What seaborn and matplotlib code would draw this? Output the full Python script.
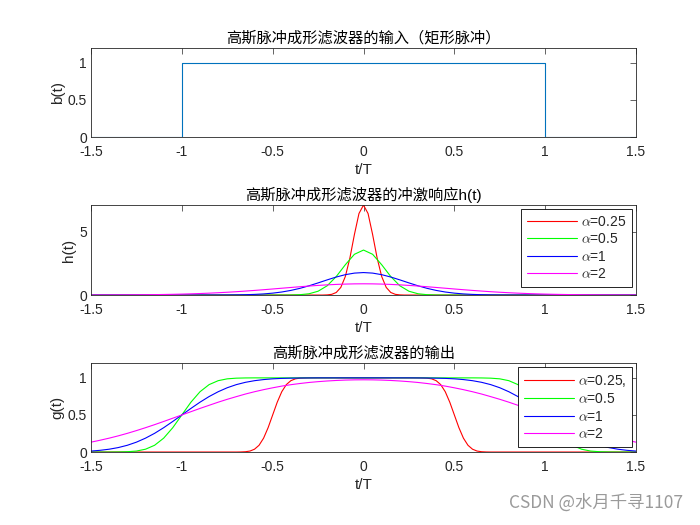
import matplotlib
matplotlib.use("Agg")
import matplotlib.pyplot as plt
import seaborn as sns
import numpy as np

# 输入矩形脉冲
t_b = [-1.5, -1.0, -1.0, 1.0, 1.0, 1.5]
b_t = [0, 0, 1, 1, 0, 0]

# 公共时间轴 (步长 0.05)
t = np.round(np.arange(-1.5, 1.5001, 0.05), 3)

# 冲激响应 h(t)
t_h025 = np.concatenate(([-1.5], np.round(np.arange(-0.25, 0.2501, 0.025), 3), [1.5]))
h_025 = [0, 0, 0.00, 0.013, 0.056, 0.203, 0.601, 1.462, 2.916, 4.776, 6.424,
         7.090,
         6.424, 4.776, 2.916, 1.462, 0.601, 0.203, 0.056, 0.013, 0.00, 0, 0]
h_05 = ([0] * 21 + [0.001, 0.006, 0.028, 0.101, 0.301, 0.731, 1.458, 2.390, 3.212]
        + [3.545]
        + [3.212, 2.390, 1.458, 0.731, 0.301, 0.101, 0.028, 0.006, 0.001] + [0] * 21)
h_1 = ([0] * 13 + [0.001, 0.003, 0.007, 0.014, 0.027, 0.051, 0.089, 0.150, 0.240,
                   0.365, 0.528, 0.729, 0.957, 1.195, 1.420, 1.606, 1.729]
       + [1.772]
       + [1.729, 1.606, 1.420, 1.195, 0.957, 0.729, 0.528, 0.365, 0.240, 0.150,
          0.089, 0.051, 0.027, 0.014, 0.007, 0.003, 0.001] + [0] * 13)
h_2 = ([0.003, 0.005, 0.007, 0.010, 0.014, 0.019, 0.025, 0.034, 0.045, 0.058,
        0.075, 0.096, 0.120, 0.149, 0.183, 0.221, 0.264, 0.313, 0.365, 0.420,
        0.478, 0.538, 0.597, 0.655, 0.710, 0.760, 0.803, 0.838, 0.864, 0.881]
       + [0.886]
       + [0.881, 0.864, 0.838, 0.803, 0.760, 0.710, 0.655, 0.597, 0.538, 0.478,
          0.420, 0.365, 0.313, 0.264, 0.221, 0.183, 0.149, 0.120, 0.096, 0.075,
          0.058, 0.045, 0.034, 0.025, 0.019, 0.014, 0.010, 0.007, 0.005, 0.003])

# 输出 g(t)
t_g025 = np.concatenate(([-1.5], np.round(np.arange(-0.7, -0.2999, 0.025), 3),
                         np.round(np.arange(0.3, 0.7001, 0.025), 3), [1.5]))
g_025 = ([0]
         + [0.000, 0.001, 0.004, 0.013, 0.038, 0.091, 0.187, 0.329, 0.500, 0.671,
            0.813, 0.909, 0.962, 0.987, 0.996, 0.999, 1.000]
         + [1.000, 0.999, 0.996, 0.987, 0.962, 0.909, 0.813, 0.671, 0.500, 0.329,
            0.187, 0.091, 0.038, 0.013, 0.004, 0.001, 0.000]
         + [0])
g_05 = ([0, 0, 0, 0.001, 0.004, 0.013, 0.038, 0.091, 0.187, 0.328, 0.500, 0.672,
         0.813, 0.909, 0.962, 0.987, 0.996, 0.999] + [1.0] * 12
        + [1.0]
        + [1.0] * 12 + [0.999, 0.996, 0.987, 0.962, 0.909, 0.813, 0.672, 0.500,
                        0.328, 0.187, 0.091, 0.038, 0.013, 0.004, 0.001, 0, 0, 0])
g_1 = ([0.013, 0.023, 0.038, 0.060, 0.091, 0.133, 0.187, 0.252, 0.328, 0.412,
        0.500, 0.588, 0.672, 0.748, 0.813, 0.867, 0.909, 0.940, 0.962, 0.977,
        0.987, 0.993, 0.996, 0.998, 0.999] + [1.0] * 5
       + [1.0]
       + [1.0] * 5 + [0.999, 0.998, 0.996, 0.993, 0.987, 0.977, 0.962, 0.940,
                      0.909, 0.867, 0.813, 0.748, 0.672, 0.588, 0.500, 0.412,
                      0.328, 0.252, 0.187, 0.133, 0.091, 0.060, 0.038, 0.023,
                      0.013])
g_2 = ([0.133, 0.159, 0.187, 0.218, 0.252, 0.289, 0.328, 0.369, 0.412, 0.456,
        0.500, 0.544, 0.588, 0.630, 0.672, 0.711, 0.747, 0.782, 0.813, 0.841,
        0.866, 0.889, 0.908, 0.924, 0.938, 0.949, 0.958, 0.965, 0.970, 0.973]
       + [0.974]
       + [0.973, 0.970, 0.965, 0.958, 0.949, 0.938, 0.924, 0.908, 0.889, 0.866,
          0.841, 0.813, 0.782, 0.747, 0.711, 0.672, 0.630, 0.588, 0.544, 0.500,
          0.456, 0.412, 0.369, 0.328, 0.289, 0.252, 0.218, 0.187, 0.159, 0.133])

labels_h = [r"$\alpha$=0.25", r"$\alpha$=0.5", r"$\alpha$=1", r"$\alpha$=2"]
labels_g = [r"$\alpha$=0.25,", r"$\alpha$=0.5", r"$\alpha$=1", r"$\alpha$=2"]
colors = ["#FF0000", "#00FF00", "#0000FF", "#FF00FF"]
x_ticks = [-1.5, -1, -0.5, 0, 0.5, 1, 1.5]
x_ticklabels = ["-1.5", "-1", "-0.5", "0", "0.5", "1", "1.5"]

sns.set_style("white")
plt.rcParams["font.family"] = ["Liberation Sans", "Noto Sans CJK SC", "DejaVu Sans"]
plt.rcParams["mathtext.fontset"] = "cm"
plt.rcParams["axes.unicode_minus"] = False

fig = plt.figure(figsize=(7, 5.25), dpi=100)
ax1 = fig.add_axes([0.13, 0.739, 0.7786, 0.1695])
ax2 = fig.add_axes([0.13, 0.438, 0.7786, 0.1714])
ax3 = fig.add_axes([0.13, 0.139, 0.7786, 0.1695])

lw = 0.8
sns.lineplot(x=t_b, y=b_t, ax=ax1, color="#0072BD", lw=lw, estimator=None, sort=False)

sns.lineplot(x=t_h025, y=h_025, ax=ax2, color=colors[0], lw=lw, estimator=None, sort=False, label=labels_h[0])
for ys, c, lab in zip([h_05, h_1, h_2], colors[1:], labels_h[1:]):
    sns.lineplot(x=t, y=ys, ax=ax2, color=c, lw=lw, estimator=None, sort=False, label=lab)

sns.lineplot(x=t_g025, y=g_025, ax=ax3, color=colors[0], lw=lw, estimator=None, sort=False, label=labels_g[0])
for ys, c, lab in zip([g_05, g_1, g_2], colors[1:], labels_g[1:]):
    sns.lineplot(x=t, y=ys, ax=ax3, color=c, lw=lw, estimator=None, sort=False, label=lab)

titles = ["高斯脉冲成形滤波器的输入（矩形脉冲）", "高斯脉冲成形滤波器的冲激响应h(t)", "高斯脉冲成形滤波器的输出"]
ylabels = ["b(t)", "h(t)", "g(t)"]
ylims = [(0, 1.2), (0, 7.09), (0, 1.2)]
yticks = [[0, 0.5, 1], [0, 5], [0, 0.5, 1]]
yticklabels = [["0", "0.5", "1"], ["0", "5"], ["0", "0.5", "1"]]

for ax, ttl, yl, lim, yt, ytl in zip([ax1, ax2, ax3], titles, ylabels, ylims, yticks, yticklabels):
    ax.set_xlim(-1.5, 1.5)
    ax.set_ylim(*lim)
    ax.set_xticks(x_ticks)
    ax.set_xticklabels(x_ticklabels)
    ax.set_yticks(yt)
    ax.set_yticklabels(ytl)
    ax.set_title(ttl, fontsize=11, color="black", pad=4)
    ax.set_xlabel("t/T", fontsize=11, color="#262626", labelpad=2.5)
    ax.set_ylabel(yl, fontsize=11, color="#262626", labelpad=2)
    ax.tick_params(direction="in", length=4, width=0.5, labelsize=10, colors="#262626",
                   top=True, right=True)
    ax.tick_params(axis="x", pad=6)
    ax.tick_params(axis="y", pad=3)
    for sp in ax.spines.values():
        sp.set_visible(True)
        sp.set_color("#262626")
        sp.set_linewidth(0.6)

for ax in [ax2, ax3]:
    leg = ax.legend(loc="upper right", fontsize=10, handlelength=3.6, labelspacing=0.25,
                    borderaxespad=0.3, fancybox=False, framealpha=1, borderpad=0.4,
                    handletextpad=0.3)
    leg.get_frame().set_edgecolor("black")
    leg.get_frame().set_linewidth(0.6)

fig.text(0.976, 0.042, "CSDN @水月千寻1107", ha="right", va="center", fontsize=12.5,
         color="#9a9a9a", family=["Noto Sans CJK SC", "DejaVu Sans"])

fig.savefig("out.png", dpi=100, facecolor="white")
